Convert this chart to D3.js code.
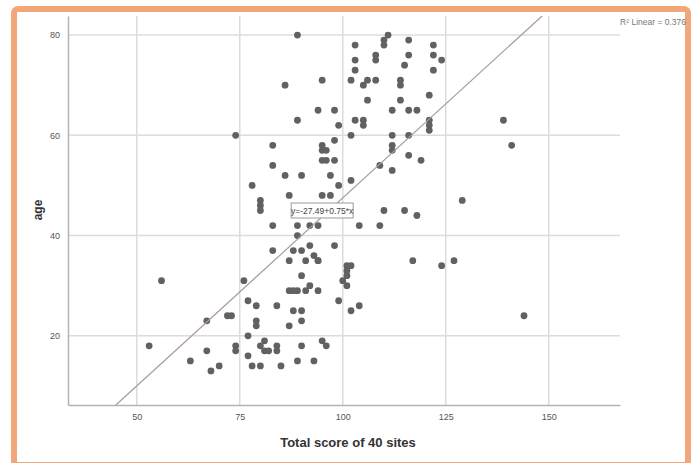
<!DOCTYPE html>
<html lang="en">
<head>
<meta charset="UTF-8">
<title>Age vs total score</title>
<script src="https://d3js.org/d3.v7.min.js"></script>
<style>
  body { margin: 0; background: #fff; }
  text { font-family: "Liberation Sans", Arial, sans-serif; }
</style>
</head>
<body>
<svg width="697" height="463"></svg>
<script>
// total score of 40 sites (x) and age (y)
var scores = [89,86,95,94,98,89,99,74,83,95,95,96,98,95,96,98,83,86,90,97,99,78,80,87,95,97,
  80,80,83,89,92,94,89,83,88,90,92,98,87,91,93,94,94,90,56,76,87,88,89,91,92,94,99,77,79,84,88,90,
  72,73,67,79,79,90,87,77,53,67,74,74,81,80,81,82,84,84,90,95,96,77,63,89,93,78,80,85,68,70,
  111,110,110,103,116,122,103,103,108,108,116,122,124,115,122,102,105,106,108,114,114,121,106,114,
  112,116,118,103,105,105,121,121,121,139,102,112,116,112,112,141,116,119,109,112,102,129,
  110,115,118,104,109,101,102,101,101,100,101,102,104,117,124,127,144];
var ages = [80,70,71,65,65,63,62,60,58,58,57,57,59,55,55,55,54,52,52,52,50,50,47,48,48,48,
  46,45,42,42,42,42,40,37,37,37,38,38,35,35,36,35,35,32,31,31,29,29,29,29,30,29,27,27,26,26,25,25,
  24,24,23,23,22,23,22,20,18,17,18,17,19,18,17,17,18,17,18,19,18,16,15,15,15,14,14,14,13,14,
  80,79,78,78,79,78,75,73,76,75,76,76,75,74,73,71,70,71,71,71,70,68,67,67,
  65,65,65,63,63,62,63,62,61,63,60,60,60,58,57,58,56,55,54,53,51,47,
  45,45,44,42,42,34,34,33,32,31,30,25,26,35,34,35,24];
var xTicks = [50, 75, 100, 125, 150];
var yTicks = [20, 40, 60, 80];
var fitA = -27.49, fitB = 0.75;
var fitText = "y=-27.49+0.75*x";
var r2Text = "R\u00b2 Linear = 0.376";

var svg = d3.select("svg");

// orange frame
svg.append("rect")
  .attr("x", 14).attr("y", 9)
  .attr("width", 674).attr("height", 456)
  .attr("rx", 4)
  .style("fill", "#fff")
  .style("stroke", "#f2a77b")
  .style("stroke-width", 6);

var pLeft = 68, pRight = 620, pTop = 16, pBottom = 405;
var x = d3.scaleLinear().domain([33.3, 167.3]).range([pLeft, pRight]);
var y = d3.scaleLinear().domain([6.2, 83.8]).range([pBottom, pTop]);

// grid
svg.append("g").selectAll("line")
  .data(yTicks).join("line")
  .attr("x1", pLeft).attr("x2", pRight)
  .attr("y1", d => y(d)).attr("y2", d => y(d))
  .style("stroke", "#dcdcdc").style("stroke-width", 1.5);
svg.append("g").selectAll("line")
  .data(xTicks).join("line")
  .attr("x1", d => x(d)).attr("x2", d => x(d))
  .attr("y1", pTop).attr("y2", pBottom)
  .style("stroke", "#dcdcdc").style("stroke-width", 1.5);

// axes
var xAxis = svg.append("g")
  .attr("transform", "translate(0," + pBottom + ")")
  .call(d3.axisBottom(x).tickValues(xTicks).tickSize(0).tickPadding(9));
var yAxis = svg.append("g")
  .attr("transform", "translate(" + pLeft + ",0)")
  .call(d3.axisLeft(y).tickValues(yTicks).tickSize(0).tickPadding(8));
[xAxis, yAxis].forEach(function(a) {
  a.select(".domain").style("stroke", "#b4b4b4").style("stroke-width", 1.5);
  a.selectAll("text").style("fill", "#555").style("font-size", "9px");
});

// points
svg.append("g").selectAll("circle")
  .data(scores.map((s, i) => [s, ages[i]]))
  .join("circle")
  .attr("cx", d => x(d[0]))
  .attr("cy", d => y(d[1]))
  .attr("r", 3.4)
  .style("fill", "#616161");

// fit line
var y0 = y.domain()[0], y1 = y.domain()[1];
svg.append("line")
  .attr("x1", x((y0 - fitA) / fitB)).attr("y1", y(y0))
  .attr("x2", x((y1 - fitA) / fitB)).attr("y2", y(y1))
  .style("stroke", "#a99c96").style("stroke-width", 1.2);

// fit label
var lx = x(95), ly = y(45);
svg.append("rect")
  .attr("x", lx - 31).attr("y", ly - 7.5)
  .attr("width", 62).attr("height", 15)
  .style("fill", "#fff").style("stroke", "#999").style("stroke-width", 1);
svg.append("text")
  .attr("x", lx).attr("y", ly + 3)
  .attr("text-anchor", "middle")
  .style("font-size", "8.5px").style("fill", "#444")
  .text(fitText);

svg.append("text")
  .attr("x", 686).attr("y", 25)
  .attr("text-anchor", "end")
  .style("font-size", "8.5px").style("fill", "#777")
  .text(r2Text);

// axis titles
svg.append("text")
  .attr("transform", "translate(42,210) rotate(-90)")
  .attr("text-anchor", "middle")
  .style("font-size", "12px").style("font-weight", "bold").style("fill", "#333")
  .text("age");
svg.append("text")
  .attr("x", 348).attr("y", 447)
  .attr("text-anchor", "middle")
  .style("font-size", "13px").style("font-weight", "bold").style("fill", "#333")
  .text("Total score of 40 sites");
</script>
</body>
</html>
